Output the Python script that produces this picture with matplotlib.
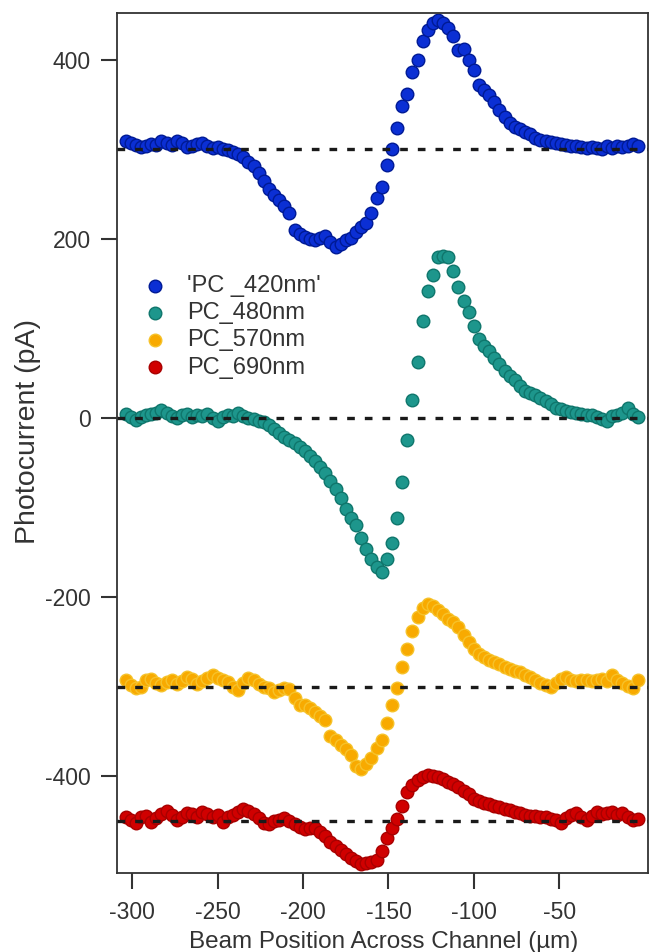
import matplotlib
matplotlib.use("Agg")
import matplotlib.pyplot as plt

plt.rcParams['font.family'] = ['Liberation Sans', 'DejaVu Sans']
plt.rcParams['axes.unicode_minus'] = False

# ---------------- data ----------------
position_um = [
    -304, -301, -298, -295, -292, -289, -286, -283, -280, -277,
    -274, -271, -268, -265, -262, -259, -256, -253, -250, -247,
    -244, -241, -238, -235, -232, -229, -226, -223, -220, -217,
    -214, -211, -208, -205, -202, -199, -196, -193, -190, -187,
    -184, -181, -178, -175, -172, -169, -166, -163, -160, -157,
    -154, -151, -148, -145, -142, -139, -136, -133, -130, -127,
    -124, -121, -118, -115, -112, -109, -106, -103, -100, -97,
    -94, -91, -88, -85, -82, -79, -76, -73, -70, -67,
    -64, -61, -58, -55, -52, -49, -46, -43, -40, -37,
    -34, -31, -28, -25, -22, -19, -16, -13, -10, -7,
    -4,
]

pc_420 = [
    309, 307, 305, 302, 303, 306, 305, 309, 307, 305,
    309, 307, 302, 303, 306, 307, 303, 301, 302, 300,
    299, 297, 295, 291, 286, 281, 273, 264, 256, 249,
    243, 236, 229, 210, 205, 202, 200, 199, 201, 203,
    196, 191, 194, 199, 201, 207, 213, 218, 229, 245,
    258, 282, 300, 324, 348, 362, 386, 400, 421, 433,
    441, 444, 441, 435, 426, 411, 412, 400, 388, 372,
    366, 361, 353, 344, 336, 329, 325, 322, 319, 317,
    313, 310, 309, 308, 307, 306, 305, 303, 303, 302,
    301, 302, 301, 300, 303, 301, 303, 302, 304, 306,
    303,
]

pc_480 = [
    4, 1, -2, 1, 3, 4, 6, 9, 5, 2,
    0, 3, 4, 1, 3, 2, 4, 0, -3, 1,
    3, 2, 5, 2, 0, -1, -3, -5, -8, -12,
    -17, -21, -25, -28, -33, -37, -42, -48, -55, -62,
    -70, -79, -89, -102, -112, -120, -134, -146, -157, -166,
    -172, -158, -140, -112, -72, -25, 20, 62, 108, 142,
    160, 180, 181, 180, 164, 146, 130, 118, 103, 88,
    80, 75, 67, 60, 52, 47, 42, 36, 30, 28,
    26, 22, 19, 15, 11, 10, 8, 7, 5, 4,
    3, 3, 1, -1, -4, 2, 3, 6, 11, 4,
    1,
]

pc_570 = [
    -293, -298, -302, -300, -293, -291, -296, -298, -295, -293,
    -297, -294, -289, -291, -297, -294, -290, -287, -290, -292,
    -295, -300, -304, -296, -290, -292, -297, -300, -302, -306,
    -304, -301, -303, -313, -320, -321, -324, -328, -333, -337,
    -355, -360, -365, -370, -376, -388, -392, -386, -380, -368,
    -360, -340, -320, -302, -278, -258, -238, -222, -212, -208,
    -210, -214, -219, -224, -228, -233, -242, -250, -258, -264,
    -267, -270, -273, -275, -278, -280, -282, -284, -287, -289,
    -292, -296, -298, -300, -296, -291, -289, -292, -294, -293,
    -292, -294, -293, -291, -294, -287, -292, -296, -299, -302,
    -293,
]

pc_690 = [
    -445, -449, -452, -446, -444, -451, -447, -442, -439, -443,
    -449, -446, -441, -442, -446, -440, -442, -445, -443, -451,
    -446, -443, -440, -436, -439, -442, -447, -452, -453, -450,
    -449, -447, -450, -453, -457, -459, -458, -458, -462, -467,
    -473, -478, -482, -487, -491, -495, -498, -497, -496, -494,
    -483, -469, -458, -448, -433, -418, -410, -404, -401, -399,
    -400, -401, -403, -406, -409, -412, -416, -420, -425, -428,
    -430, -431, -433, -434, -436, -438, -440, -441, -443, -444,
    -444, -445, -446, -448, -449, -452, -447, -443, -441, -446,
    -449, -444, -440, -442, -441, -440, -443, -441, -445, -449,
    -448,
]

series_labels = ["'PC _420nm'", "PC_480nm", "PC_570nm", "PC_690nm"]
baselines = [300, 0, -300, -450]
x_ticks = [-300, -250, -200, -150, -100, -50]
y_ticks = [400, 200, 0, -200, -400]

# ---------------- figure ----------------
fig = plt.figure(figsize=(6.51, 9.52), dpi=100)
ax = fig.add_axes([117 / 651, 1 - 873 / 952, (648 - 117) / 651, (873 - 13) / 952])

styles = [
    dict(c='#0b2fd4', edgecolors='#001a95'),
    dict(c='#1d968c', edgecolors='#0f766c'),
    dict(c='#f8aa00', edgecolors='#f6c22a'),
    dict(c='#d00000', edgecolors='#a80000'),
]
all_series = [pc_420, pc_480, pc_570, pc_690]
for vals, lab, st in zip(all_series, series_labels, styles):
    ax.scatter(position_um, vals, s=82, linewidths=1.0, label=lab, zorder=2, **st)

for b in baselines:
    ax.axhline(b, color='#1a1a1a', lw=2.4, dashes=(2.3, 3.0), zorder=3)

ax.set_xlim(-309, 2)
ax.set_ylim(-508, 452)
ax.set_xticks(x_ticks)
ax.set_yticks(y_ticks)

text_color = '#333333'
ax.tick_params(axis='both', direction='out', length=11.5, width=1.5,
               color='#333333', labelsize=16.5, labelcolor=text_color)
ax.tick_params(axis='y', pad=7.5)
ax.tick_params(axis='x', pad=8.5)
for sp in ax.spines.values():
    sp.set_color('#333333')
    sp.set_linewidth(1.3)

fig.text(28 / 651, 1 - 432 / 952, 'Photocurrent (pA)', rotation=90,
         ha='center', va='center', fontsize=20.5, color=text_color)
fig.text(384 / 651, 4 / 952, 'Beam Position Across Channel (\u00b5m)',
         ha='center', va='baseline', fontsize=17.5, color=text_color)

leg = ax.legend(loc='upper left', bbox_to_anchor=((143 - 117) / 531, 1 - (275 - 13) / 860),
                frameon=False, fontsize=17, handlelength=1.0, handletextpad=0.85,
                labelspacing=0.22, borderpad=0, borderaxespad=0, scatterpoints=1)
for t in leg.get_texts():
    t.set_color(text_color)

fig.savefig('out.png', dpi=100)
